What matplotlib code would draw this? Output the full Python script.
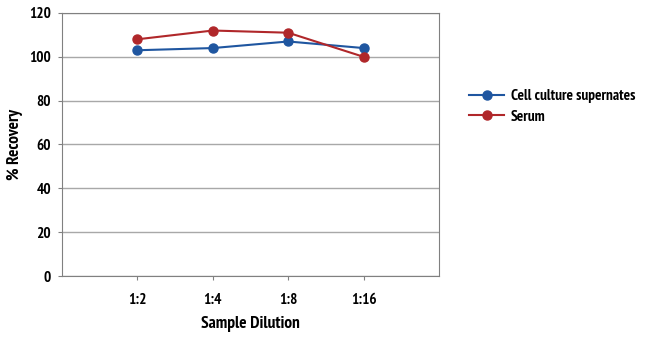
import matplotlib
matplotlib.use("Agg")
import matplotlib.pyplot as plt

# Data
dilutions = ["1:2", "1:4", "1:8", "1:16"]
cell_culture = [103, 104, 107, 104]
serum = [108, 112, 111, 100]

plt.rcParams['font.family'] = ['PT Sans Narrow', 'DejaVu Sans']
plt.rcParams['font.weight'] = 'bold'

fig = plt.figure(figsize=(6.5, 3.41), dpi=100)
ax = fig.add_axes([0.0954, 0.1906, 0.58, 0.7713])

x = list(range(1, len(dilutions) + 1))
ax.plot(x, cell_culture, color='#1f56a0', marker='o', markersize=6.5, lw=1.5,
        label='Cell culture supernates', zorder=3)
ax.plot(x, serum, color='#b0272a', marker='o', markersize=6.5, lw=1.5,
        label='Serum', zorder=3)

ax.set_xlim(0, 5)
ax.set_ylim(0, 120)
ax.set_xticks(x)
ax.set_xticklabels(dilutions)
ax.set_yticks(range(0, 121, 20))
ax.yaxis.grid(True, color='#a8a8a8', lw=1)
ax.set_axisbelow(True)

for s in ax.spines.values():
    s.set_color('#808080')
ax.tick_params(axis='both', colors='#808080', labelcolor='black', labelsize=11,
               length=3, direction='out', pad=5)
ax.tick_params(axis='x', pad=9)

ax.set_xlabel('Sample Dilution', fontsize=12.5, fontweight='bold', labelpad=7)
ax.set_ylabel('% Recovery', fontsize=12.5, fontweight='bold', labelpad=4)

ax.legend(loc='center left', bbox_to_anchor=(1.08, 0.645), frameon=False,
          fontsize=11, handlelength=2.3, handletextpad=0.45, labelspacing=0.45,
          borderaxespad=0, borderpad=0)

fig.savefig('out.png', dpi=100)
